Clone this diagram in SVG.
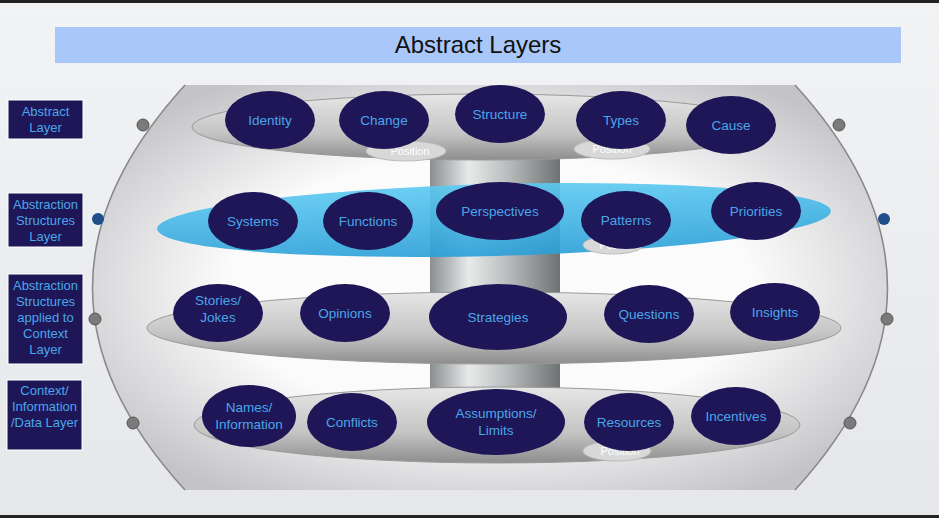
<svg xmlns="http://www.w3.org/2000/svg" width="939" height="518" viewBox="0 0 939 518">
<style>
.lbl rect{fill:#1e1656;stroke:#fff;stroke-width:1}
text{font-family:"Liberation Sans",Arial,sans-serif}
.lt{fill:#4aa6ea;font-size:13px;text-anchor:middle}
.n ellipse{fill:#1e1656}
.nt{fill:#4aa6ea;font-size:13.5px;text-anchor:middle}
.dot{fill:#7a7a7a;stroke:#555;stroke-width:1}
.pos ellipse{fill:#d8d8d8;stroke:#bbb}
.pos text{fill:#fff;font-size:11px;text-anchor:middle}
</style>
<defs>
<linearGradient id="bg" x1="0" y1="0" x2="0" y2="1"><stop offset="0" stop-color="#f2f3f5"/><stop offset="1" stop-color="#e6e7ea"/></linearGradient>
<radialGradient id="sph" cx="0.5" cy="0.5" r="0.6"><stop offset="0.55" stop-color="#fbfbfb"/><stop offset="1" stop-color="#c4c4c8"/></radialGradient>
<linearGradient id="plat" x1="0" y1="0" x2="0" y2="1"><stop offset="0" stop-color="#e6e6e6"/><stop offset="0.6" stop-color="#c4c4c4"/><stop offset="1" stop-color="#8d8d8d"/></linearGradient>
<linearGradient id="blue" x1="0" y1="0" x2="0" y2="1"><stop offset="0" stop-color="#5ccaf2"/><stop offset="1" stop-color="#2a9fd8"/></linearGradient>
<linearGradient id="cyl" x1="0" y1="0" x2="1" y2="0"><stop offset="0" stop-color="#8a8e90"/><stop offset="0.3" stop-color="#e8eaea"/><stop offset="0.6" stop-color="#b8bcbc"/><stop offset="1" stop-color="#6e7272"/></linearGradient>
</defs>
<rect width="939" height="518" fill="url(#bg)"/>
<rect width="939" height="3" fill="#222"/>
<rect x="0" y="515" width="939" height="3" fill="#222"/>
<path d="M185,85 Q0,288 185,490 L795,490 Q980,288 795,85 Z" fill="url(#sph)"/>
<path d="M185,85 Q0,288 185,490" fill="none" stroke="#888" stroke-width="1.5"/>
<path d="M795,85 Q980,288 795,490" fill="none" stroke="#888" stroke-width="1.5"/>
<rect x="430" y="120" width="130" height="340" fill="url(#cyl)"/>
<g id="platters">
<ellipse cx="482" cy="127" rx="290" ry="33" fill="url(#plat)" stroke="#999"/>
<ellipse cx="494" cy="220" rx="337" ry="36" fill="url(#blue)" opacity="0.9" transform="rotate(-1.5 494 220)"/>
<ellipse cx="494" cy="328" rx="347" ry="36" fill="url(#plat)" stroke="#999"/>
<ellipse cx="497" cy="425" rx="303" ry="38" fill="url(#plat)" stroke="#999"/>
</g>
<g class="pos">
<ellipse cx="406" cy="151" rx="40" ry="10"/><text x="410" y="155">Position</text>
<ellipse cx="612" cy="149" rx="38" ry="10"/><text x="612" y="153">Position</text>
<ellipse cx="613" cy="245" rx="30" ry="9"/><text x="610" y="249">Posi</text>
<ellipse cx="617" cy="451" rx="34" ry="10"/><text x="620" y="455">Position</text>
</g>
<rect x="55" y="27" width="846" height="36" fill="#a9c7f9"/>
<text x="478" y="53" font-size="24" text-anchor="middle" fill="#111">Abstract Layers</text>
<g id="dots">
<circle class="dot" cx="143" cy="125" r="6"/>
<circle cx="98" cy="219" r="6" fill="#1f4f8a"/>
<circle class="dot" cx="95" cy="319" r="6"/>
<circle class="dot" cx="133" cy="423" r="6"/>
<circle class="dot" cx="839" cy="125" r="6"/>
<circle cx="884" cy="219" r="6" fill="#1f4f8a"/>
<circle class="dot" cx="887" cy="319" r="6"/>
<circle class="dot" cx="850" cy="423" r="6"/>
</g>
<g class="lbl" id="labels">
<g id="l1"><rect x="8" y="100" width="75" height="39"/><text class="lt" x="45.5" y="116">Abstract</text><text class="lt" x="45.5" y="132">Layer</text></g>
<g id="l2"><rect x="8" y="193" width="75" height="54"/><text class="lt" x="45.5" y="209">Abstraction</text><text class="lt" x="45.5" y="225">Structures</text><text class="lt" x="45.5" y="241">Layer</text></g>
<g id="l3"><rect x="8" y="274" width="75" height="90"/><text class="lt" x="45.5" y="290">Abstraction</text><text class="lt" x="45.5" y="306">Structures</text><text class="lt" x="45.5" y="322">applied to</text><text class="lt" x="45.5" y="338">Context</text><text class="lt" x="45.5" y="354">Layer</text></g>
<g id="l4"><rect x="7" y="380" width="75" height="70"/><text class="lt" x="44.5" y="395">Context/</text><text class="lt" x="44.5" y="411">Information</text><text class="lt" x="44.5" y="427">/Data Layer</text></g>
</g>
<g class="n">
<g id="identity"><ellipse cx="270" cy="120" rx="45" ry="29"/><text class="nt" x="270" y="125">Identity</text></g>
<g id="change"><ellipse cx="384" cy="120" rx="45" ry="29"/><text class="nt" x="384" y="125">Change</text></g>
<g id="structure"><ellipse cx="500" cy="114" rx="45" ry="29"/><text class="nt" x="500" y="119">Structure</text></g>
<g id="types"><ellipse cx="621" cy="120" rx="45" ry="29"/><text class="nt" x="621" y="125">Types</text></g>
<g id="cause"><ellipse cx="731" cy="125" rx="45" ry="29"/><text class="nt" x="731" y="130">Cause</text></g>
<g id="systems"><ellipse cx="253" cy="221" rx="45" ry="29"/><text class="nt" x="253" y="226">Systems</text></g>
<g id="functions"><ellipse cx="368" cy="221" rx="45" ry="29"/><text class="nt" x="368" y="226">Functions</text></g>
<g id="perspectives"><ellipse cx="500" cy="211" rx="64" ry="29"/><text class="nt" x="500" y="216">Perspectives</text></g>
<g id="patterns"><ellipse cx="626" cy="220" rx="45" ry="29"/><text class="nt" x="626" y="225">Patterns</text></g>
<g id="priorities"><ellipse cx="756" cy="211" rx="45" ry="29"/><text class="nt" x="756" y="216">Priorities</text></g>
<g id="stories"><ellipse cx="218" cy="313" rx="45" ry="29"/><text class="nt" x="218" y="305">Stories/</text><text class="nt" x="218" y="322">Jokes</text></g>
<g id="opinions"><ellipse cx="345" cy="313" rx="45" ry="29"/><text class="nt" x="345" y="318">Opinions</text></g>
<g id="strategies"><ellipse cx="498" cy="317" rx="69" ry="33"/><text class="nt" x="498" y="322">Strategies</text></g>
<g id="questions"><ellipse cx="649" cy="314" rx="45" ry="29"/><text class="nt" x="649" y="319">Questions</text></g>
<g id="insights"><ellipse cx="775" cy="312" rx="45" ry="29"/><text class="nt" x="775" y="317">Insights</text></g>
<g id="names"><ellipse cx="249" cy="416" rx="47" ry="31"/><text class="nt" x="249" y="412">Names/</text><text class="nt" x="249" y="429">Information</text></g>
<g id="conflicts"><ellipse cx="352" cy="422" rx="45" ry="29"/><text class="nt" x="352" y="427">Conflicts</text></g>
<g id="assumptions"><ellipse cx="496" cy="422" rx="69" ry="33"/><text class="nt" x="496" y="418">Assumptions/</text><text class="nt" x="496" y="435">Limits</text></g>
<g id="resources"><ellipse cx="629" cy="422" rx="45" ry="29"/><text class="nt" x="629" y="427">Resources</text></g>
<g id="incentives"><ellipse cx="736" cy="416" rx="45" ry="29"/><text class="nt" x="736" y="421">Incentives</text></g>
</g>
<g id="connectors"/>
</svg>
